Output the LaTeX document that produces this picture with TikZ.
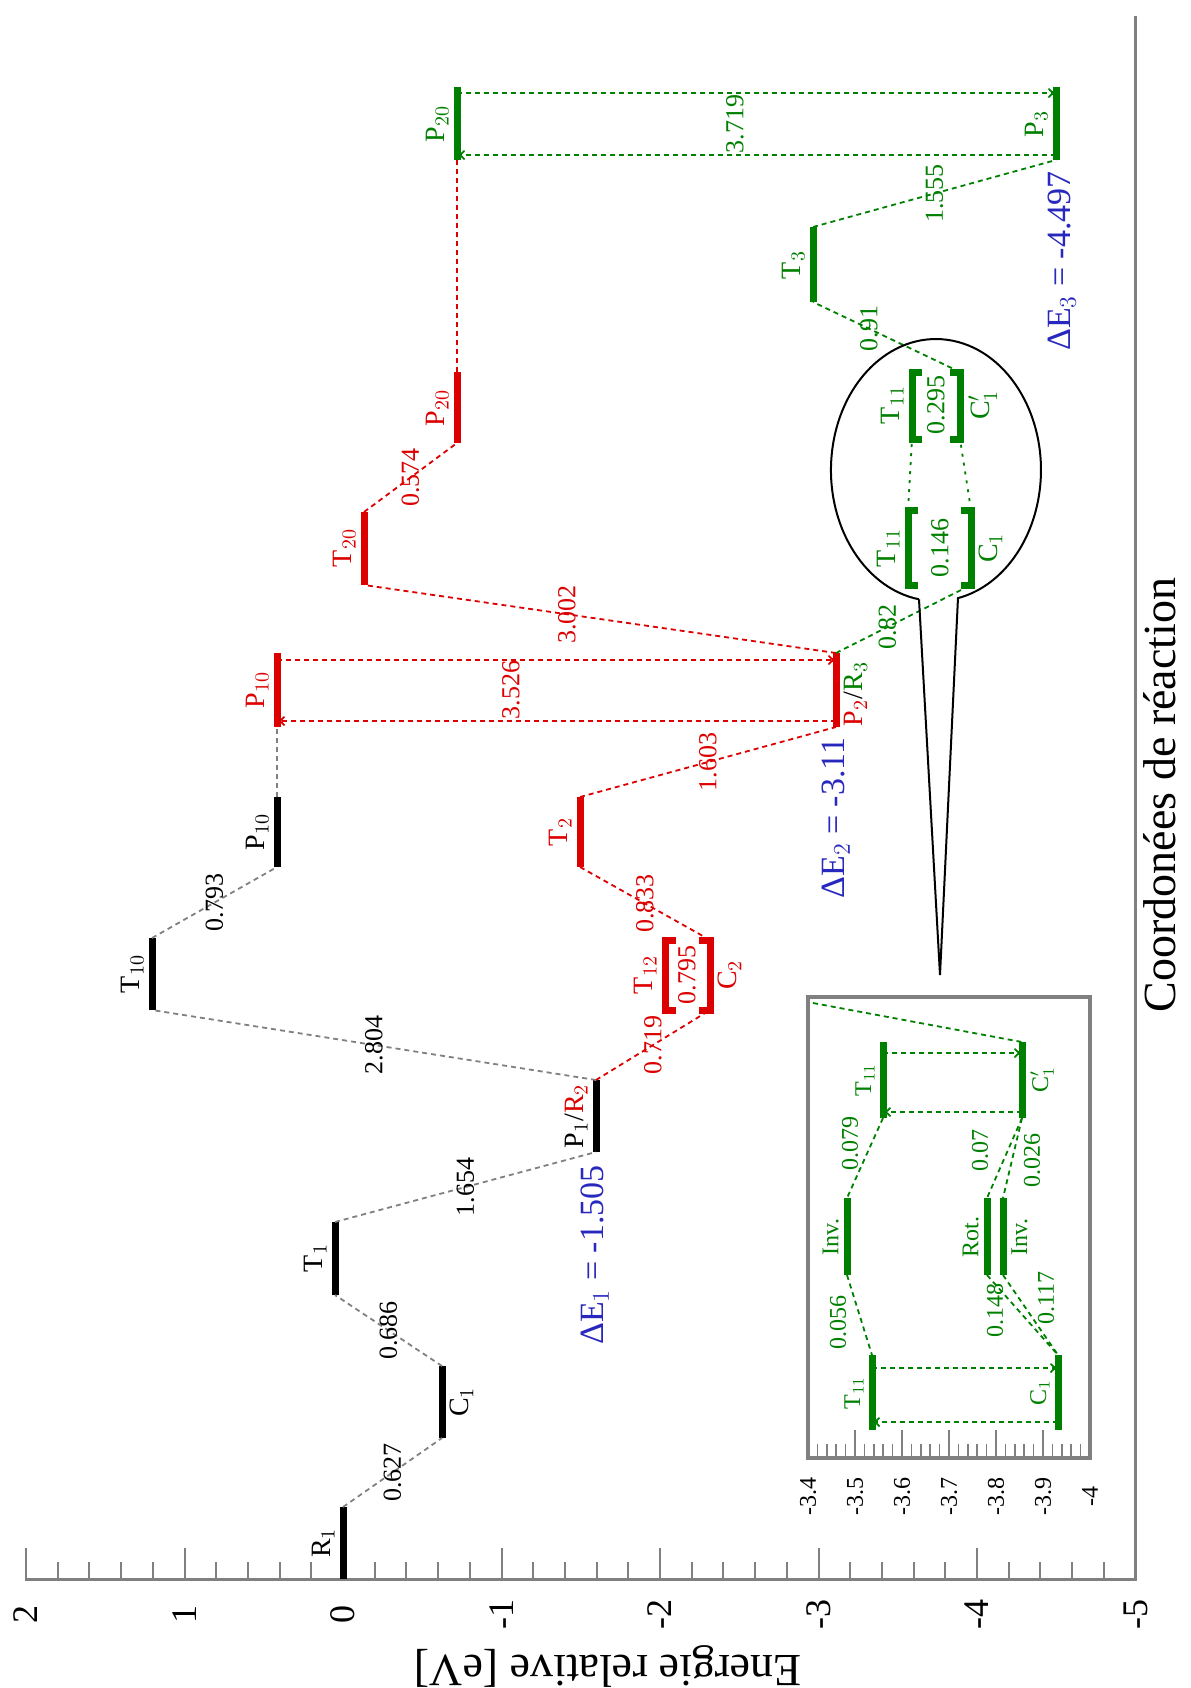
\documentclass[tikz,border=0pt]{standalone}
\usepackage{fontspec}
\setmainfont{Liberation Serif}
\usetikzlibrary{arrows.meta}

\definecolor{rouge}{RGB}{220,0,0}
\definecolor{vert}{RGB}{0,128,0}
\definecolor{bleu}{RGB}{40,40,190}
\definecolor{gris}{RGB}{128,128,128}

\begin{document}
\begin{tikzpicture}[x=0.5pt,y=-0.5pt]
\tikzstyle{niveau}=[line width=3.5pt]
\tikzstyle{lien}=[dash pattern=on 2.5pt off 2pt,line width=0.9pt]
\tikzstyle{valeur}=[rotate=90,inner sep=0pt,font=\fontsize{13}{13}\selectfont]
\tikzstyle{nom}=[rotate=90,inner sep=1.5pt,font=\fontsize{14}{14}\selectfont]
\tikzstyle{gauche}=[nom,anchor=south]
\tikzstyle{droite}=[nom,anchor=north]
\tikzstyle{petit}=[font=\fontsize{12}{12}\selectfont]
\tikzstyle{delta}=[rotate=90,bleu,font=\fontsize{17}{17}\selectfont]
\tikzstyle{fleche}=[-{To[length=4pt,width=5pt]}]

\useasboundingbox (0,0) rectangle (1190,1688);

\draw[gris,line width=1.5pt] (25,1579) -- (1135,1579) -- (1135,16);
\foreach \k in {0,...,35} \draw[gris,line width=1pt] (26+31.7*\k,1579) -- ++(0,-17);
\foreach \e in {2,1,0,-1,-2,-3,-4,-5} {
  \draw[gris,line width=1pt] (343-158.5*\e,1579) -- ++(0,-31);
  \node[rotate=90,font=\fontsize{18}{18}\selectfont] at (343-158.5*\e,1614) {\e};
}
\node[rotate=180,font=\fontsize{23}{23}\selectfont] (titreE) at (608,1666) {Energie relative [eV]};
\node[rotate=90,font=\fontsize{23}{23}\selectfont] (titreC) at (1160,795) {Coordonées de réaction};

\coordinate (R1-b) at (343,1579); \coordinate (R1-h) at (343,1507);
\coordinate (C1-b) at (442,1438); \coordinate (C1-h) at (442,1366);
\coordinate (T1-b) at (335,1295); \coordinate (T1-h) at (335,1222);
\coordinate (PR1-b) at (596,1152); \coordinate (PR1-h) at (596,1080);
\coordinate (T10-b) at (152,1010); \coordinate (T10-h) at (152,938);
\coordinate (P10-b) at (277,867); \coordinate (P10-h) at (277,797);

\draw[niveau] (R1-b) -- (R1-h);
\draw[niveau] (C1-b) -- (C1-h);
\draw[niveau] (T1-b) -- (T1-h);
\draw[niveau] (PR1-b) -- (PR1-h);
\draw[niveau] (T10-b) -- (T10-h);
\draw[niveau] (P10-b) -- (P10-h);

\node[gauche] (nR1) at (338,1543) {R$_1$};
\node[droite] (nC1) at (447,1402) {C$_1$};
\node[gauche] (nT1) at (330,1258) {T$_1$};
\node[gauche] (nPR1) at (591,1116) {P$_1$/\textcolor{rouge}{R$_2$}};
\node[gauche] (nT10) at (147,974) {T$_{10}$};
\node[gauche] (nP10) at (272,832) {P$_{10}$};

\draw[lien,gris] (R1-h) -- node[valeur,text=black] {0.627} (C1-b);
\draw[lien,gris] (C1-h) -- node[valeur,text=black] {0.686} (T1-b);
\draw[lien,gris] (T1-h) -- node[valeur,text=black] {1.654} (PR1-b);
\draw[lien,gris] (PR1-h) -- node[valeur,text=black] {2.804} (T10-b);
\draw[lien,gris] (T10-h) -- node[valeur,text=black] {0.793} (P10-b);
\node[delta] (dE1) at (595,1255) {ΔE$_1$ = -1.505};

\coordinate (P10r-b) at (277,727); \coordinate (P10r-h) at (277,653);
\coordinate (PR2-b) at (836,727); \coordinate (PR2-h) at (836,653);
\coordinate (Tr-b) at (580,867); \coordinate (Tr-h) at (580,797);
\coordinate (T12-b) at (665,1010); \coordinate (T12-h) at (665,940);
\coordinate (C2-b) at (710,1010); \coordinate (C2-h) at (710,940);
\coordinate (T20-b) at (364,585); \coordinate (T20-h) at (364,512);
\coordinate (P20r-b) at (457,443); \coordinate (P20r-h) at (457,372);

\draw[lien,gris] (P10-h) -- (P10r-b);
\draw[niveau,rouge] (P10r-b) -- (P10r-h);
\draw[niveau,rouge] (PR2-b) -- (PR2-h);
\draw[niveau,rouge] (Tr-b) -- (Tr-h);
\draw[niveau,rouge] (T12-h) ++(11,0) -- (T12-h) -- (T12-b) -- ++(11,0);
\draw[niveau,rouge] (C2-h) ++(-11,0) -- (C2-h) -- (C2-b) -- ++(-11,0);
\draw[niveau,rouge] (T20-b) -- (T20-h);
\draw[niveau,rouge] (P20r-b) -- (P20r-h);

\node[gauche,rouge] (nP10r) at (272,690) {P$_{10}$};
\node[droite] (nPR2) at (841,694) {\textcolor{rouge}{P$_2$}/\textcolor{vert}{R$_3$}};
\node[gauche,rouge] (nTr) at (575,832) {T$_2$};
\node[gauche,rouge] (nT12) at (660,975) {T$_{12}$};
\node[droite,rouge] (nC2) at (715,975) {C$_2$};
\node[valeur,rouge] (vT12) at (687,975) {0.795};
\node[gauche,rouge] (nT20) at (359,548) {T$_{20}$};
\node[gauche,rouge] (nP20r) at (452,408) {P$_{20}$};

\draw[lien,rouge] (PR1-h) -- node[valeur] {0.719} (C2-b);
\draw[lien,rouge] (C2-h) -- node[valeur] {0.833} (Tr-b);
\draw[lien,rouge] (Tr-h) -- node[valeur] {1.603} (PR2-b);
\draw[lien,rouge] (PR2-h) -- node[valeur,pos=0.57] {3.002} (T20-b);
\draw[lien,rouge] (T20-h) -- node[valeur] {0.574} (P20r-b);

\coordinate (bR1) at (277,660); \coordinate (bR2) at (836,660);
\coordinate (bR3) at (836,721); \coordinate (bR4) at (277,721);
\draw[lien,rouge,fleche] (bR1) -- (bR2);
\draw[lien,rouge,fleche] (bR3) -- (bR4);
\node[valeur,rouge] (vR) at (511,690) {3.526};
\node[delta] (dE2) at (836,818) {ΔE$_2$ = -3.11};

\coordinate (P20v-b) at (457,160); \coordinate (P20v-h) at (457,87);
\coordinate (P3-b) at (1056,160); \coordinate (P3-h) at (1056,87);
\coordinate (Tv-b) at (813,302); \coordinate (Tv-h) at (813,227);
\coordinate (T11a-b) at (912,439); \coordinate (T11a-h) at (912,372);
\coordinate (C1a-b) at (960,439); \coordinate (C1a-h) at (960,372);
\coordinate (T11b-b) at (908,585); \coordinate (T11b-h) at (908,510);
\coordinate (C1b-b) at (971,585); \coordinate (C1b-h) at (971,510);

\draw[lien,rouge] (P20r-h) -- (P20v-b);
\draw[niveau,vert] (P20v-b) -- (P20v-h);
\draw[niveau,vert] (P3-b) -- (P3-h);
\draw[niveau,vert] (Tv-b) -- (Tv-h);
\draw[niveau,vert] (T11a-h) ++(10,0) -- (T11a-h) -- (T11a-b) -- ++(10,0);
\draw[niveau,vert] (C1a-h) ++(-10,0) -- (C1a-h) -- (C1a-b) -- ++(-10,0);
\draw[niveau,vert] (T11b-h) ++(10,0) -- (T11b-h) -- (T11b-b) -- ++(10,0);
\draw[niveau,vert] (C1b-h) ++(-10,0) -- (C1b-h) -- (C1b-b) -- ++(-10,0);

\node[gauche,vert] (nP20v) at (452,124) {P$_{20}$};
\node[gauche,vert] (nP3) at (1051,124) {P$_3$};
\node[gauche,vert] (nTv) at (808,265) {T$_3$};
\node[gauche,vert] (nT11a) at (907,405) {T$_{11}$};
\node[droite,vert] (nC1a) at (965,405) {C$'_1$};
\node[valeur,vert] (vA) at (936,405) {0.295};
\node[gauche,vert] (nT11b) at (903,548) {T$_{11}$};
\node[droite,vert] (nC1b) at (976,548) {C$_1$};
\node[valeur,vert] (vB) at (940,548) {0.146};

\draw[lien,vert] (PR2-h) -- node[valeur,pos=0.38] {0.82} (C1b-b);
\draw[vert,line width=0.9pt,dash pattern=on 1.5pt off 3pt] (T11b-h) -- (T11a-b);
\draw[vert,line width=0.9pt,dash pattern=on 1.5pt off 3pt] (C1b-h) -- (C1a-b);
\draw[lien,vert] (C1a-h) -- node[valeur,pos=0.62] {0.91} (Tv-b);
\draw[lien,vert] (Tv-h) -- node[valeur] {1.555} (P3-b);

\coordinate (bV1) at (457,93); \coordinate (bV2) at (1056,93);
\coordinate (bV3) at (1056,155); \coordinate (bV4) at (457,155);
\draw[lien,vert,fleche] (bV1) -- (bV2);
\draw[lien,vert,fleche] (bV3) -- (bV4);
\node[valeur,vert] (vV) at (735,124) {3.719};
\node[delta] (dE3) at (1062,261) {ΔE$_3$ = -4.497};

\coordinate (bulleG) at (919,599.3);
\coordinate (pointe) at (940,975);
\draw[line width=1pt] (bulleG) arc[start angle=99.3,end angle=437.9,x radius=105,y radius=131] -- (pointe) -- (bulleG);

\draw[gris,line width=2pt] (808,997) rectangle (1090,1458);
\foreach \k in {0,...,30} \draw[gris,line width=0.8pt] (808+9.4*\k,1458) -- ++(0,-14);
\foreach \k/\t in {0/-3.4,1/-3.5,2/-3.6,3/-3.7,4/-3.8,5/-3.9,6/-4} {
  \draw[gris,line width=0.8pt] (808+47*\k,1458) -- ++(0,-28);
  \node[rotate=90,petit] at (808+47*\k,1496) {\t};
}

\coordinate (iE) at (813,1003);
\coordinate (iT11-b) at (883,1118); \coordinate (iT11-h) at (883,1042);
\coordinate (iT11p-b) at (1022,1118); \coordinate (iT11p-h) at (1022,1042);
\coordinate (iInvG-b) at (847,1275); \coordinate (iInvG-h) at (847,1198);
\coordinate (iRot-b) at (987,1275); \coordinate (iRot-h) at (987,1198);
\coordinate (iInvD-b) at (1003,1275); \coordinate (iInvD-h) at (1003,1198);
\coordinate (iBG-b) at (872,1430); \coordinate (iBG-h) at (872,1355);
\coordinate (iBD-b) at (1058,1430); \coordinate (iBD-h) at (1058,1355);

\draw[niveau,vert] (iT11-b) -- (iT11-h);
\draw[niveau,vert] (iT11p-b) -- (iT11p-h);
\draw[niveau,vert] (iInvG-b) -- (iInvG-h);
\draw[niveau,vert] (iRot-b) -- (iRot-h);
\draw[niveau,vert] (iInvD-b) -- (iInvD-h);
\draw[niveau,vert] (iBG-b) -- (iBG-h);
\draw[niveau,vert] (iBD-b) -- (iBD-h);

\node[gauche,vert,petit] (niT11) at (878,1080) {T$_{11}$};
\node[droite,vert,petit] (niT11p) at (1027,1080) {C$'_1$};
\node[gauche,vert,petit] (niInvG) at (842,1237) {Inv.};
\node[gauche,vert,petit] (niRot) at (982,1237) {Rot.};
\node[droite,vert,petit] (niInvD) at (1008,1237) {Inv.};
\node[gauche,vert,petit] (niBG) at (867,1393) {T$_{11}$};
\node[gauche,vert,petit] (niBD) at (1053,1393) {C$_1$};

\draw[lien,vert] (iE) -- (iT11p-h);
\draw[lien,vert,fleche] (883,1053) -- (1022,1053);
\draw[lien,vert,fleche] (1022,1112) -- (883,1112);
\draw[lien,vert,fleche] (872,1368) -- (1058,1368);
\draw[lien,vert,fleche] (1058,1422) -- (872,1422);
\draw[lien,vert] (iT11-b) -- (iInvG-h);
\draw[lien,vert] (iT11p-b) -- (iRot-h);
\draw[lien,vert] (iT11p-b) -- (iInvD-h);
\draw[lien,vert] (iInvG-b) -- (iBG-h);
\draw[lien,vert] (iRot-b) -- (iBD-h);
\draw[lien,vert] (iInvD-b) -- (iBD-h);
\node[valeur,vert,petit] (vi1) at (850,1143) {0.079};
\node[valeur,vert,petit] (vi2) at (980,1150) {0.07};
\node[valeur,vert,petit] (vi3) at (1032,1160) {0.026};
\node[valeur,vert,petit] (vi4) at (838,1322) {0.056};
\node[valeur,vert,petit] (vi5) at (995,1310) {0.148};
\node[valeur,vert,petit] (vi6) at (1046,1298) {0.117};

\end{tikzpicture}
\end{document}
